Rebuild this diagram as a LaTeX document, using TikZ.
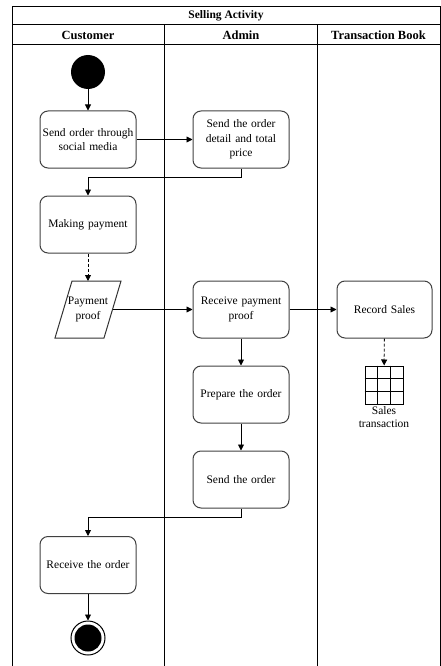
\documentclass[tikz,border=0pt]{standalone}
\usepackage{fontspec}
\setmainfont{Liberation Serif}
\usetikzlibrary{arrows.meta}
\begin{document}
\begin{tikzpicture}[x=1pt,y=-1pt,
  act/.style={draw=black!75,line width=1pt,rounded corners=8pt,minimum width=96pt,minimum height=57pt,
    align=center,text width=92pt,font=\fontsize{11.5}{14.5}\selectfont,inner sep=0pt},
  flow/.style={draw=black,line width=0.9pt,-{Triangle[length=6pt,width=6pt]}},
  dflow/.style={flow,dashed,dash pattern=on 3pt off 2pt},
  lane/.style={draw=black,line width=1pt},
  hdr/.style={font=\fontsize{12.5}{14}\selectfont\bfseries}]
\useasboundingbox (0,0) rectangle (441,666);
% swimlane frame
\draw[lane] (12,666) -- (12,7) -- (440,7) -- (440,666);
\draw[lane] (12,25) -- (440,25);
\draw[lane] (12,45) -- (440,45);
\draw[lane] (164,25) -- (164,666);
\draw[lane] (317,25) -- (317,666);
\node[font=\fontsize{11.5}{14}\selectfont\bfseries] (title) at (226,16) {Selling Activity};
\node[hdr] (hc) at (88,35) {Customer};
\node[hdr] (ha) at (241,35) {Admin};
\node[hdr] (ht) at (378.5,35) {Transaction Book};
% nodes
\node[circle,fill=black,minimum size=34pt,inner sep=0pt] (start) at (88,72) {};
\node[act] (order) at (88,139.5) {Send order through\\social media};
\node[act] (detail) at (241,139.5) {Send the order\\detail and total\\price};
\node[act] (pay) at (88,224.5) {Making payment};
% data object: parallelogram drawn directly, text in a node on top
\draw[draw=black!80,line width=1pt] (72,281) -- (121,281) -- (104,338) -- (55,338) -- cycle;
\node[align=center,font=\fontsize{11.5}{14.5}\selectfont,inner sep=0pt,minimum width=34pt,minimum height=57pt] (proof) at (88,309.5) {Payment\\proof};
\coordinate (proofe) at (113,309.5);
\node[act] (recv) at (241,309.5) {Receive payment\\proof};
\node[act,minimum width=95pt] (record) at (384.5,309.5) {Record Sales};
\node[draw=black,line width=1pt,minimum width=38pt,minimum height=38pt,inner sep=0pt] (table) at (384,385) {};
\draw[line width=1pt] ([xshift=12.67pt]table.north west) -- ([xshift=12.67pt]table.south west)
  ([xshift=-12.67pt]table.north east) -- ([xshift=-12.67pt]table.south east)
  ([yshift=-12.67pt]table.north west) -- ([yshift=-12.67pt]table.north east)
  ([yshift=12.67pt]table.south west) -- ([yshift=12.67pt]table.south east);
\node[align=center,font=\fontsize{11.5}{13.5}\selectfont,inner sep=1pt,anchor=north] (tlabel) at (384,405) {Sales\\transaction};
\node[act] (prep) at (241,394.5) {Prepare the order};
\node[act] (send) at (241,479.5) {Send the order};
\node[act] (get) at (88,565) {Receive the order};
\node[circle,draw=black,line width=1pt,minimum size=34pt,inner sep=0pt] (stop) at (88,638) {};
\node[circle,fill=black,minimum size=27pt,inner sep=0pt] (stopin) at (88,638) {};
% connectors
\draw[flow] (start) -- (order);
\draw[flow] (order) -- (detail);
\draw[flow] (detail.south) -- ++(0,9) -| (pay.north);
\draw[dflow] (pay.south) -- (88,281);
\draw[flow] (proofe) -- (recv.west);
\draw[flow] (recv) -- (record);
\draw[dflow] (record) -- (table);
\draw[flow] (recv) -- (prep);
\draw[flow] (prep) -- (send);
\draw[flow] (send.south) -- ++(0,9) -| (get.north);
\draw[flow] (get) -- (stop);
\end{tikzpicture}
\end{document}
